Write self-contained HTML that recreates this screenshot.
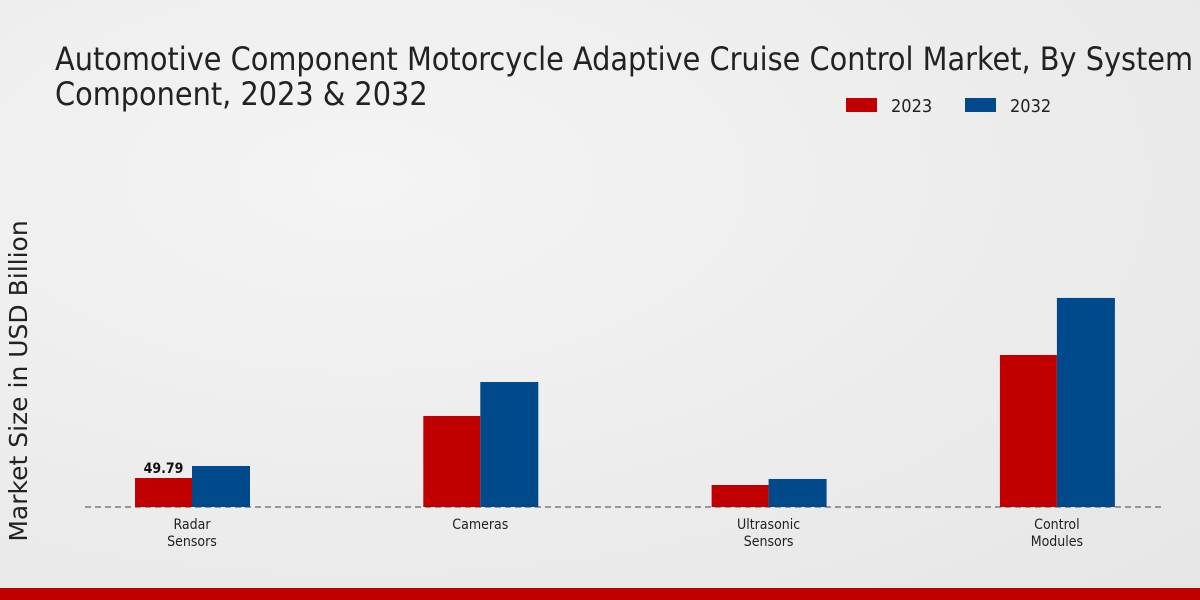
<!DOCTYPE html>
<html><head><meta charset="utf-8"><style>
body{margin:0;width:1200px;height:600px;overflow:hidden;background:radial-gradient(ellipse at 30% 30%,#f4f4f4 0%,#e6e6e6 100%);font-family:"DejaVu Sans Condensed","DejaVu Sans","Liberation Sans",sans-serif;}
svg{position:absolute;left:0;top:0}
</style></head><body>
<svg width="1200" height="600" id="c">
<text x="55" y="70" font-size="32" fill="#222" style="font-family:'DejaVu Sans Condensed','DejaVu Sans',sans-serif">Automotive Component Motorcycle Adaptive Cruise Control Market, By System</text>
<text x="55" y="105" font-size="32" fill="#222" style="font-family:'DejaVu Sans Condensed','DejaVu Sans',sans-serif">Component, 2023 &amp; 2032</text>
<rect x="846" y="98" width="31" height="14" fill="#c00000"/>
<text x="891" y="112" font-size="18" fill="#222">2023</text>
<rect x="965" y="98" width="31" height="14" fill="#004a8c"/>
<text x="1010" y="112" font-size="18" fill="#222">2032</text>
<text transform="translate(27,381) rotate(-90)" text-anchor="middle" font-size="25" fill="#222" style="font-family:'DejaVu Sans',sans-serif">Market Size in USD Billion</text>
<line x1="85" y1="507" x2="1165" y2="507" stroke="#444" stroke-dasharray="6,4"/>
<g id="bars"></g>
<rect x="0" y="588" width="1200" height="12" fill="#c00000"/>
</svg>
<script>
const categories=[["Radar","Sensors"],["Cameras"],["Ultrasonic","Sensors"],["Control","Modules"]];
const values2023=[49.79,156.3,37.8,261.0];
const values2032=[70.4,214.6,48.1,358.9];
const labels2023=["49.79","","",""];
const ns="http://www.w3.org/2000/svg";
const g=document.getElementById('bars');
const base=507, k=29/49.79;
const xc=i=>192+i*288.3;
const y=v=>base-v*k;
function mk(t,a){const e=document.createElementNS(ns,t);for(const n in a)e.setAttribute(n,a[n]);g.appendChild(e);return e;}
categories.forEach((c,i)=>{
 let r=mk('rect',{x:xc(i)-57,y:y(values2023[i]),width:57,height:base-y(values2023[i]),fill:'#c00000'});
 
 
 let r2=mk('rect',{x:xc(i),y:y(values2032[i]),width:58,height:base-y(values2032[i]),fill:'#004a8c'});
 
 
 if(labels2023[i]){let t=mk('text',{x:xc(i)-28.5,y:y(values2023[i])-5,'text-anchor':'middle','font-size':14,'font-weight':'bold',fill:'#111'});t.textContent=labels2023[i];
 
 }
 c.forEach((l,j)=>{let t=mk('text',{x:xc(i),y:529+j*17,'text-anchor':'middle','font-size':14,fill:'#222'});t.textContent=l;
 
 });
});
</script>
</body></html>
